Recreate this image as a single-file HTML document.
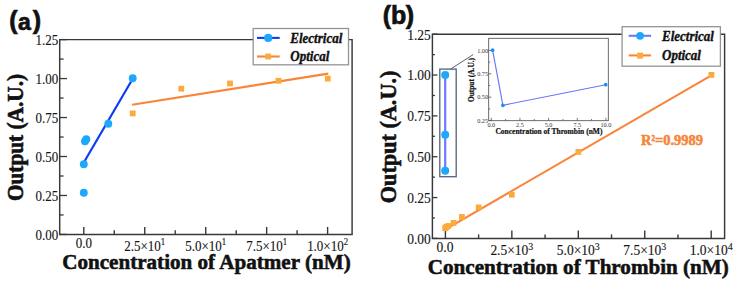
<!DOCTYPE html>
<html><head><meta charset="utf-8"><style>
html,body{margin:0;padding:0;background:#fff;width:738px;height:285px;overflow:hidden}
svg{display:block}
</style></head><body>
<svg width="738" height="285" viewBox="0 0 738 285">
<style>.s{font-family:"Liberation Serif",serif;fill:#151515;stroke:#151515;stroke-width:0.12px}.b{font-family:"Liberation Serif",serif;font-weight:bold;fill:#111;stroke:#111;stroke-width:0.55px}.bi{font-family:"Liberation Serif",serif;font-weight:bold;font-style:italic;fill:#111;stroke:#111;stroke-width:0.35px}.lab{font-family:"Liberation Sans",sans-serif;font-weight:bold;fill:#111;stroke:#111;stroke-width:0.7px}</style>
<path d="M59.7,39.6 V234.45 H352.1 V39.6 H59.7Z" fill="none" stroke="#383838" stroke-width="1.45"/>
<line x1="59.7" y1="234.45" x2="67.0" y2="234.45" stroke="#383838" stroke-width="1.3"/>
<text transform="translate(58.2,239.65) scale(1,1.07)" font-size="13" text-anchor="end" class="s">0.00</text>
<line x1="59.7" y1="214.96" x2="63.6" y2="214.96" stroke="#383838" stroke-width="1.3"/>
<line x1="59.7" y1="195.48" x2="67.0" y2="195.48" stroke="#383838" stroke-width="1.3"/>
<text transform="translate(58.2,200.68) scale(1,1.07)" font-size="13" text-anchor="end" class="s">0.25</text>
<line x1="59.7" y1="176.00" x2="63.6" y2="176.00" stroke="#383838" stroke-width="1.3"/>
<line x1="59.7" y1="156.51" x2="67.0" y2="156.51" stroke="#383838" stroke-width="1.3"/>
<text transform="translate(58.2,161.71) scale(1,1.07)" font-size="13" text-anchor="end" class="s">0.50</text>
<line x1="59.7" y1="137.02" x2="63.6" y2="137.02" stroke="#383838" stroke-width="1.3"/>
<line x1="59.7" y1="117.54" x2="67.0" y2="117.54" stroke="#383838" stroke-width="1.3"/>
<text transform="translate(58.2,122.74) scale(1,1.07)" font-size="13" text-anchor="end" class="s">0.75</text>
<line x1="59.7" y1="98.06" x2="63.6" y2="98.06" stroke="#383838" stroke-width="1.3"/>
<line x1="59.7" y1="78.57" x2="67.0" y2="78.57" stroke="#383838" stroke-width="1.3"/>
<text transform="translate(58.2,83.77) scale(1,1.07)" font-size="13" text-anchor="end" class="s">1.00</text>
<line x1="59.7" y1="59.08" x2="63.6" y2="59.08" stroke="#383838" stroke-width="1.3"/>
<line x1="59.7" y1="39.60" x2="67.0" y2="39.60" stroke="#383838" stroke-width="1.3"/>
<text transform="translate(58.2,44.80) scale(1,1.07)" font-size="13" text-anchor="end" class="s">1.25</text>
<line x1="83.80" y1="234.45" x2="83.80" y2="226.95" stroke="#383838" stroke-width="1.4"/>
<line x1="114.28" y1="234.45" x2="114.28" y2="230.14999999999998" stroke="#383838" stroke-width="1.4"/>
<line x1="144.75" y1="234.45" x2="144.75" y2="226.95" stroke="#383838" stroke-width="1.4"/>
<line x1="175.23" y1="234.45" x2="175.23" y2="230.14999999999998" stroke="#383838" stroke-width="1.4"/>
<line x1="205.70" y1="234.45" x2="205.70" y2="226.95" stroke="#383838" stroke-width="1.4"/>
<line x1="236.18" y1="234.45" x2="236.18" y2="230.14999999999998" stroke="#383838" stroke-width="1.4"/>
<line x1="266.65" y1="234.45" x2="266.65" y2="226.95" stroke="#383838" stroke-width="1.4"/>
<line x1="297.12" y1="234.45" x2="297.12" y2="230.14999999999998" stroke="#383838" stroke-width="1.4"/>
<line x1="327.60" y1="234.45" x2="327.60" y2="226.95" stroke="#383838" stroke-width="1.4"/>
<text transform="translate(83.8,247.8) scale(1,1.07)" font-size="13" text-anchor="middle" class="s">0.0</text>
<text transform="translate(144.75,250.9) scale(1,1.07)" font-size="13" text-anchor="middle" class="s">2.5×10<tspan font-size="8.8" dy="-5.3">1</tspan></text>
<text transform="translate(205.70,250.9) scale(1,1.07)" font-size="13" text-anchor="middle" class="s">5.0×10<tspan font-size="8.8" dy="-5.3">1</tspan></text>
<text transform="translate(266.65,250.9) scale(1,1.07)" font-size="13" text-anchor="middle" class="s">7.5×10<tspan font-size="8.8" dy="-5.3">1</tspan></text>
<text transform="translate(327.60,250.9) scale(1,1.07)" font-size="13" text-anchor="middle" class="s">1.0×10<tspan font-size="8.8" dy="-5.3">2</tspan></text>
<text transform="translate(62.2,268.9) scale(1,1.035)" font-size="21.1" class="b">Concentration of Apatmer (nM)</text>
<text transform="translate(23.0,201.1) rotate(-90) scale(1,1.07)" font-size="21.3" class="b">Output (A.U.)</text>
<text x="9.3" y="29.2" font-size="25" class="lab">(<tspan font-size="23" dx="0.4" dy="0.9">a</tspan><tspan dx="1.8" dy="-0.9">)</tspan></text>
<line x1="84.1" y1="162" x2="133" y2="78.3" stroke="#0d3cf5" stroke-width="2.2"/>
<line x1="132.1" y1="104.8" x2="328.3" y2="73.6" stroke="#f9853a" stroke-width="2.1"/>
<circle cx="83.8" cy="192.7" r="3.95" fill="#1ea8fb"/>
<circle cx="83.8" cy="164.3" r="3.95" fill="#1ea8fb"/>
<circle cx="85" cy="141.3" r="3.95" fill="#1ea8fb"/>
<circle cx="86.3" cy="139.2" r="3.95" fill="#1ea8fb"/>
<circle cx="108.3" cy="123.8" r="3.95" fill="#1ea8fb"/>
<circle cx="132.7" cy="78.3" r="3.95" fill="#1ea8fb"/>
<rect x="129.79999999999998" y="110.5" width="5.8" height="5.8" fill="#fcaa3c"/>
<rect x="178.4" y="85.8" width="5.8" height="5.8" fill="#fcaa3c"/>
<rect x="227.1" y="80.6" width="5.8" height="5.8" fill="#fcaa3c"/>
<rect x="275.6" y="77.89999999999999" width="5.8" height="5.8" fill="#fcaa3c"/>
<rect x="324.90000000000003" y="75.69999999999999" width="5.8" height="5.8" fill="#fcaa3c"/>
<rect x="253.2" y="28.5" width="95.3" height="36.3" fill="#fff" stroke="#949494" stroke-width="1.3"/>
<line x1="257" y1="37.9" x2="279.7" y2="37.9" stroke="#0d3cf5" stroke-width="2.1"/>
<circle cx="268.2" cy="37.9" r="4.1" fill="#1ea8fb"/>
<line x1="257" y1="56.5" x2="279.7" y2="56.5" stroke="#f9853a" stroke-width="2.1"/>
<rect x="265.3" y="53.6" width="5.8" height="5.8" fill="#fcaa3c"/>
<text transform="translate(290.3,42.8) scale(1,1.07)" font-size="13" class="bi">Electrical</text>
<text transform="translate(290.3,60.8) scale(1,1.07)" font-size="13" class="bi">Optical</text>
<path d="M432.4,34.2 V238.4 H724.6 V34.2 H432.4Z" fill="none" stroke="#383838" stroke-width="1.45"/>
<line x1="432.4" y1="238.40" x2="437.4" y2="238.40" stroke="#383838" stroke-width="1.3"/>
<text transform="translate(430.8,243.80) scale(1,1.07)" font-size="13.5" text-anchor="end" class="s">0.00</text>
<line x1="432.4" y1="217.98" x2="434.9" y2="217.98" stroke="#383838" stroke-width="1.3"/>
<line x1="432.4" y1="197.56" x2="437.4" y2="197.56" stroke="#383838" stroke-width="1.3"/>
<text transform="translate(430.8,202.96) scale(1,1.07)" font-size="13.5" text-anchor="end" class="s">0.25</text>
<line x1="432.4" y1="177.14" x2="434.9" y2="177.14" stroke="#383838" stroke-width="1.3"/>
<line x1="432.4" y1="156.72" x2="437.4" y2="156.72" stroke="#383838" stroke-width="1.3"/>
<text transform="translate(430.8,162.12) scale(1,1.07)" font-size="13.5" text-anchor="end" class="s">0.50</text>
<line x1="432.4" y1="136.30" x2="434.9" y2="136.30" stroke="#383838" stroke-width="1.3"/>
<line x1="432.4" y1="115.88" x2="437.4" y2="115.88" stroke="#383838" stroke-width="1.3"/>
<text transform="translate(430.8,121.28) scale(1,1.07)" font-size="13.5" text-anchor="end" class="s">0.75</text>
<line x1="432.4" y1="95.46" x2="434.9" y2="95.46" stroke="#383838" stroke-width="1.3"/>
<line x1="432.4" y1="75.04" x2="437.4" y2="75.04" stroke="#383838" stroke-width="1.3"/>
<text transform="translate(430.8,80.44) scale(1,1.07)" font-size="13.5" text-anchor="end" class="s">1.00</text>
<line x1="432.4" y1="54.62" x2="434.9" y2="54.62" stroke="#383838" stroke-width="1.3"/>
<line x1="432.4" y1="34.20" x2="437.4" y2="34.20" stroke="#383838" stroke-width="1.3"/>
<text transform="translate(430.8,39.60) scale(1,1.07)" font-size="13.5" text-anchor="end" class="s">1.25</text>
<line x1="445.40" y1="238.4" x2="445.40" y2="230.4" stroke="#383838" stroke-width="1.4"/>
<line x1="478.62" y1="238.4" x2="478.62" y2="234.4" stroke="#383838" stroke-width="1.4"/>
<line x1="511.85" y1="238.4" x2="511.85" y2="230.4" stroke="#383838" stroke-width="1.4"/>
<line x1="545.07" y1="238.4" x2="545.07" y2="234.4" stroke="#383838" stroke-width="1.4"/>
<line x1="578.30" y1="238.4" x2="578.30" y2="230.4" stroke="#383838" stroke-width="1.4"/>
<line x1="611.52" y1="238.4" x2="611.52" y2="234.4" stroke="#383838" stroke-width="1.4"/>
<line x1="644.75" y1="238.4" x2="644.75" y2="230.4" stroke="#383838" stroke-width="1.4"/>
<line x1="677.97" y1="238.4" x2="677.97" y2="234.4" stroke="#383838" stroke-width="1.4"/>
<line x1="711.20" y1="238.4" x2="711.20" y2="230.4" stroke="#383838" stroke-width="1.4"/>
<text transform="translate(445.0,252.4) scale(1,1.07)" font-size="13.5" text-anchor="middle" class="s">0.0</text>
<text transform="translate(511.85,255.4) scale(1,1.07)" font-size="13.5" text-anchor="middle" class="s">2.5×10<tspan font-size="10" dy="-5.2">3</tspan></text>
<text transform="translate(578.30,255.4) scale(1,1.07)" font-size="13.5" text-anchor="middle" class="s">5.0×10<tspan font-size="10" dy="-5.2">3</tspan></text>
<text transform="translate(644.75,255.4) scale(1,1.07)" font-size="13.5" text-anchor="middle" class="s">7.5×10<tspan font-size="10" dy="-5.2">3</tspan></text>
<text transform="translate(711.20,255.4) scale(1,1.07)" font-size="13.5" text-anchor="middle" class="s">1.0×10<tspan font-size="10" dy="-5.2">4</tspan></text>
<text transform="translate(427.8,273.8) scale(1,1.04)" font-size="21.1" class="b">Concentration of Thrombin (nM)</text>
<text transform="translate(396.0,203.2) rotate(-90) scale(1,1.07)" font-size="22.2" class="b">Output (A.U.)</text>
<text x="382.8" y="23.5" font-size="25" class="lab">(b<tspan dx="-0.7">)</tspan></text>
<line x1="445.1" y1="229.6" x2="711.4" y2="75.3" stroke="#f9853a" stroke-width="2.1"/>
<rect x="442.3" y="225.29999999999998" width="5.8" height="5.8" fill="#fcaa3c"/>
<rect x="442.90000000000003" y="224.6" width="5.8" height="5.8" fill="#fcaa3c"/>
<rect x="443.70000000000005" y="223.9" width="5.8" height="5.8" fill="#fcaa3c"/>
<rect x="445.3" y="223.1" width="5.8" height="5.8" fill="#fcaa3c"/>
<rect x="450.70000000000005" y="220.0" width="5.8" height="5.8" fill="#fcaa3c"/>
<rect x="459.0" y="214.1" width="5.8" height="5.8" fill="#fcaa3c"/>
<rect x="475.8" y="204.5" width="5.8" height="5.8" fill="#fcaa3c"/>
<rect x="508.90000000000003" y="191.79999999999998" width="5.8" height="5.8" fill="#fcaa3c"/>
<rect x="575.5" y="149.0" width="5.8" height="5.8" fill="#fcaa3c"/>
<rect x="708.5" y="72.0" width="5.8" height="5.8" fill="#fcaa3c"/>
<line x1="445.2" y1="75" x2="445.2" y2="170.8" stroke="#6b79fb" stroke-width="2.2"/>
<circle cx="445.2" cy="75" r="4.0" fill="#1ea8fb"/>
<circle cx="445.2" cy="134.8" r="4.0" fill="#1ea8fb"/>
<circle cx="445.2" cy="170.8" r="4.0" fill="#1ea8fb"/>
<rect x="439.8" y="69.1" width="16.4" height="107.6" fill="none" stroke="#4f6379" stroke-width="1.3"/>
<line x1="450.5" y1="69.1" x2="473.2" y2="54.6" stroke="#4f6379" stroke-width="1"/>
<rect x="488.6" y="38.4" width="119.79999999999995" height="82.19999999999999" fill="#fff" stroke="#7a7a7a" stroke-width="1.1"/>
<line x1="488.6" y1="120.60" x2="491.40000000000003" y2="120.60" stroke="#555" stroke-width="0.8"/>
<text x="488.0" y="122.70" font-size="6.2" text-anchor="end" class="s" style="fill:#333;stroke:none">0.25</text>
<line x1="488.6" y1="108.90" x2="490.20000000000005" y2="108.90" stroke="#555" stroke-width="0.8"/>
<line x1="488.6" y1="97.20" x2="491.40000000000003" y2="97.20" stroke="#555" stroke-width="0.8"/>
<text x="488.0" y="99.30" font-size="6.2" text-anchor="end" class="s" style="fill:#333;stroke:none">0.50</text>
<line x1="488.6" y1="85.50" x2="490.20000000000005" y2="85.50" stroke="#555" stroke-width="0.8"/>
<line x1="488.6" y1="73.80" x2="491.40000000000003" y2="73.80" stroke="#555" stroke-width="0.8"/>
<text x="488.0" y="75.90" font-size="6.2" text-anchor="end" class="s" style="fill:#333;stroke:none">0.75</text>
<line x1="488.6" y1="62.10" x2="490.20000000000005" y2="62.10" stroke="#555" stroke-width="0.8"/>
<line x1="488.6" y1="50.40" x2="491.40000000000003" y2="50.40" stroke="#555" stroke-width="0.8"/>
<text x="488.0" y="52.50" font-size="6.2" text-anchor="end" class="s" style="fill:#333;stroke:none">1.00</text>
<line x1="491.30" y1="120.6" x2="491.30" y2="117.8" stroke="#555" stroke-width="0.8"/>
<text x="491.30" y="127.2" font-size="6.2" text-anchor="middle" class="s" style="fill:#333;stroke:none">0.0</text>
<line x1="505.62" y1="120.6" x2="505.62" y2="119.0" stroke="#555" stroke-width="0.8"/>
<line x1="519.95" y1="120.6" x2="519.95" y2="117.8" stroke="#555" stroke-width="0.8"/>
<text x="519.95" y="127.2" font-size="6.2" text-anchor="middle" class="s" style="fill:#333;stroke:none">2.5</text>
<line x1="534.27" y1="120.6" x2="534.27" y2="119.0" stroke="#555" stroke-width="0.8"/>
<line x1="548.60" y1="120.6" x2="548.60" y2="117.8" stroke="#555" stroke-width="0.8"/>
<text x="548.60" y="127.2" font-size="6.2" text-anchor="middle" class="s" style="fill:#333;stroke:none">5.0</text>
<line x1="562.92" y1="120.6" x2="562.92" y2="119.0" stroke="#555" stroke-width="0.8"/>
<line x1="577.25" y1="120.6" x2="577.25" y2="117.8" stroke="#555" stroke-width="0.8"/>
<text x="577.25" y="127.2" font-size="6.2" text-anchor="middle" class="s" style="fill:#333;stroke:none">7.5</text>
<line x1="591.58" y1="120.6" x2="591.58" y2="119.0" stroke="#555" stroke-width="0.8"/>
<line x1="605.90" y1="120.6" x2="605.90" y2="117.8" stroke="#555" stroke-width="0.8"/>
<text x="605.90" y="127.2" font-size="6.2" text-anchor="middle" class="s" style="fill:#333;stroke:none">10.0</text>
<text x="495.4" y="134.2" font-size="7.5" class="b" style="stroke-width:0.2px">Concentration of Thrombin (nM)</text>
<text transform="translate(473.7,102.1) rotate(-90)" font-size="7.4" class="b" style="stroke-width:0.2px">Output (A.U.)</text>
<polyline points="492.6,50.2 502.9,105.3 605.7,84.7" fill="none" stroke="#6a75f6" stroke-width="1.15"/>
<circle cx="492.6" cy="50.2" r="1.85" fill="#1b92f2"/>
<circle cx="502.9" cy="105.3" r="1.85" fill="#1b92f2"/>
<circle cx="605.7" cy="84.7" r="1.85" fill="#1b92f2"/>
<rect x="622.1" y="26.7" width="98.3" height="39.5" fill="#fff" stroke="#949494" stroke-width="1.3"/>
<line x1="628.7" y1="35.8" x2="651.1" y2="35.8" stroke="#6b79fb" stroke-width="2.1"/>
<circle cx="640.1" cy="35.8" r="3.9" fill="#1ea8fb"/>
<line x1="628.7" y1="55.4" x2="651.1" y2="55.4" stroke="#f9853a" stroke-width="2.1"/>
<rect x="637.1" y="52.6" width="6" height="6" fill="#fcaa3c"/>
<text transform="translate(662,41.4) scale(1,1.07)" font-size="13" class="bi">Electrical</text>
<text transform="translate(662,59.7) scale(1,1.07)" font-size="13" class="bi">Optical</text>
<text transform="translate(640.9,145.2) scale(1,1.06)" font-size="14.5" class="b" style="fill:#f5853a;stroke:#f5853a;stroke-width:0.5px">R<tspan font-size="7.2" dy="-3.8">2</tspan><tspan dy="3.8">=0.9989</tspan></text>
</svg>
</body></html>
